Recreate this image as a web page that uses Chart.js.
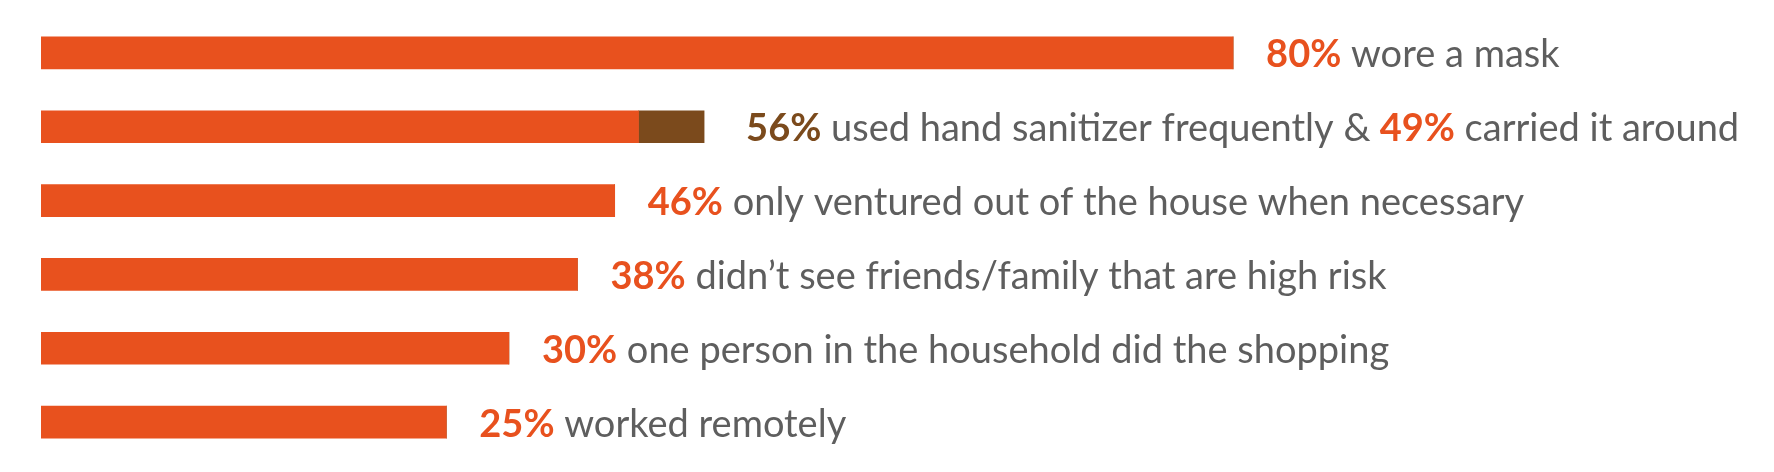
<!DOCTYPE html>
<html lang="en">
  <head>
    <meta charset="UTF-8" />
    <title>Protective Behaviours</title>
    <style>
      body {
        margin: 0;
        background: white;
      }
      #wrap {
        width: 1774px;
        height: 472px;
        position: relative;
      }
    </style>
    <script src="https://cdn.jsdelivr.net/npm/chart.js"></script>
  </head>
  <body>
    <div id="wrap">
      <canvas id="behaviourChart"></canvas>
    </div>

    <script>
      // rows, top to bottom
      const captions = [
        "wore a mask",
        "used hand sanitizer frequently &",
        "only ventured out of the house when necessary",
        "didn’t see friends/family that are high risk",
        "one person in the household did the shopping",
        "worked remotely",
      ];
      const pctMain = [80, 56, 46, 38, 30, 25];
      const pctSecond = [null, 49, null, null, null, null];
      const secondCaptions = [null, "carried it around", null, null, null, null];

      // drawn bar lengths (the 80% bar = 80)
      const orangeLength = [80, 40.1, 38.5, 36.0, 31.4, 27.2];
      const brownLength = [0, 4.4, 0, 0, 0, 0];

      const ORANGE = "#e8511e";
      const BROWN = "#7b4a1c";
      const GREY = "#5e5e5e";
      const FONT = "Lato, 'Open Sans', sans-serif";
      const SIZE = 38;

      const labelPlugin = {
        id: "rowLabels",
        afterDatasetsDraw(chart) {
          const ctx = chart.ctx;
          const top = chart.getDatasetMeta(1).data;
          ctx.save();
          ctx.textBaseline = "alphabetic";
          ctx.textAlign = "left";
          top.forEach((bar, i) => {
            // the two-part row sits a little further from its bar
            let x = bar.x + (pctSecond[i] ? 42 : 33);
            const y = bar.y + 14.5;
            const runs = [
              { t: pctMain[i] + "%", bold: true, c: pctSecond[i] ? BROWN : ORANGE },
              { t: " " + captions[i], bold: false, c: GREY },
            ];
            if (pctSecond[i]) {
              runs.push({ t: " " + pctSecond[i] + "%", bold: true, c: ORANGE });
              runs.push({ t: " " + secondCaptions[i], bold: false, c: GREY });
            }
            runs.forEach((r) => {
              ctx.font = (r.bold ? "bold " : "") + SIZE + "px " + FONT;
              ctx.fillStyle = r.c;
              ctx.fillText(r.t, x, y);
              x += ctx.measureText(r.t).width;
            });
          });
          ctx.restore();
        },
      };

      new Chart(document.getElementById("behaviourChart"), {
        type: "bar",
        data: {
          labels: captions,
          datasets: [
            { data: orangeLength, backgroundColor: ORANGE, barThickness: 32 },
            { data: brownLength, backgroundColor: BROWN, barThickness: 32 },
          ],
        },
        options: {
          indexAxis: "y",
          responsive: true,
          maintainAspectRatio: false,
          animation: false,
          layout: { padding: { left: 41, right: 0, top: 16, bottom: 13 } },
          scales: {
            x: { stacked: true, min: 0, max: 116.3, display: false },
            y: { stacked: true, display: false },
          },
          plugins: {
            legend: { display: false },
            tooltip: { enabled: false },
          },
        },
        plugins: [labelPlugin],
      });
    </script>
  </body>
</html>
